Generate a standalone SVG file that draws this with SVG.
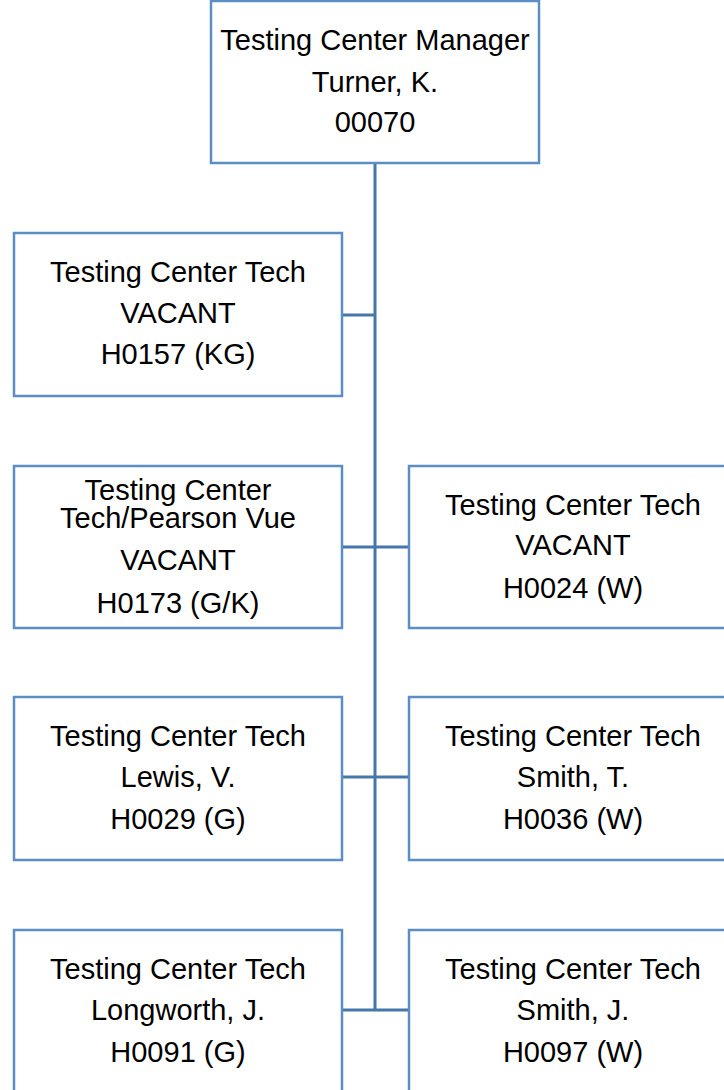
<svg xmlns="http://www.w3.org/2000/svg" width="724" height="1090" viewBox="0 0 724 1090">
<style>
.box{fill:#fff;stroke:#5b8ec4;stroke-width:2.5}
.conn{stroke:#4677aa;stroke-width:3;fill:none}
text{font-family:"Liberation Sans",Arial,sans-serif;font-size:29px;fill:#000;text-anchor:middle}
</style>
<rect width="724" height="1090" fill="#fff"/>
<g id="connectors">
<path class="conn" d="M375 163V1010"/>
<path class="conn" d="M342 315H375"/>
<path class="conn" d="M342 547H409"/>
<path class="conn" d="M342 777H409"/>
<path class="conn" d="M342 1010H409"/>
</g>
<g id="manager">
<rect class="box" x="211" y="1" width="328" height="162"/>
<text x="375" y="50">Testing Center Manager</text>
<text x="375" y="92">Turner, K.</text>
<text x="375" y="132">00070</text>
</g>
<g id="h0157">
<rect class="box" x="14" y="233" width="328" height="163"/>
<text x="178" y="282">Testing Center Tech</text>
<text x="178" y="323">VACANT</text>
<text x="178" y="364">H0157 (KG)</text>
</g>
<g id="h0173">
<rect class="box" x="14" y="466" width="328" height="162"/>
<text x="178" y="500">Testing Center</text>
<text x="178" y="528">Tech/Pearson Vue</text>
<text x="178" y="570">VACANT</text>
<text x="178" y="613">H0173 (G/K)</text>
</g>
<g id="h0024">
<rect class="box" x="409" y="466" width="328" height="162"/>
<text x="573" y="515">Testing Center Tech</text>
<text x="573" y="555">VACANT</text>
<text x="573" y="598">H0024 (W)</text>
</g>
<g id="h0029">
<rect class="box" x="14" y="697" width="328" height="163"/>
<text x="178" y="746">Testing Center Tech</text>
<text x="178" y="787">Lewis, V.</text>
<text x="178" y="829">H0029 (G)</text>
</g>
<g id="h0036">
<rect class="box" x="409" y="697" width="328" height="163"/>
<text x="573" y="746">Testing Center Tech</text>
<text x="573" y="787">Smith, T.</text>
<text x="573" y="829">H0036 (W)</text>
</g>
<g id="h0091">
<rect class="box" x="14" y="930" width="328" height="163"/>
<text x="178" y="979">Testing Center Tech</text>
<text x="178" y="1020">Longworth, J.</text>
<text x="178" y="1062">H0091 (G)</text>
</g>
<g id="h0097">
<rect class="box" x="409" y="930" width="328" height="163"/>
<text x="573" y="979">Testing Center Tech</text>
<text x="573" y="1020">Smith, J.</text>
<text x="573" y="1062">H0097 (W)</text>
</g>
</svg>
